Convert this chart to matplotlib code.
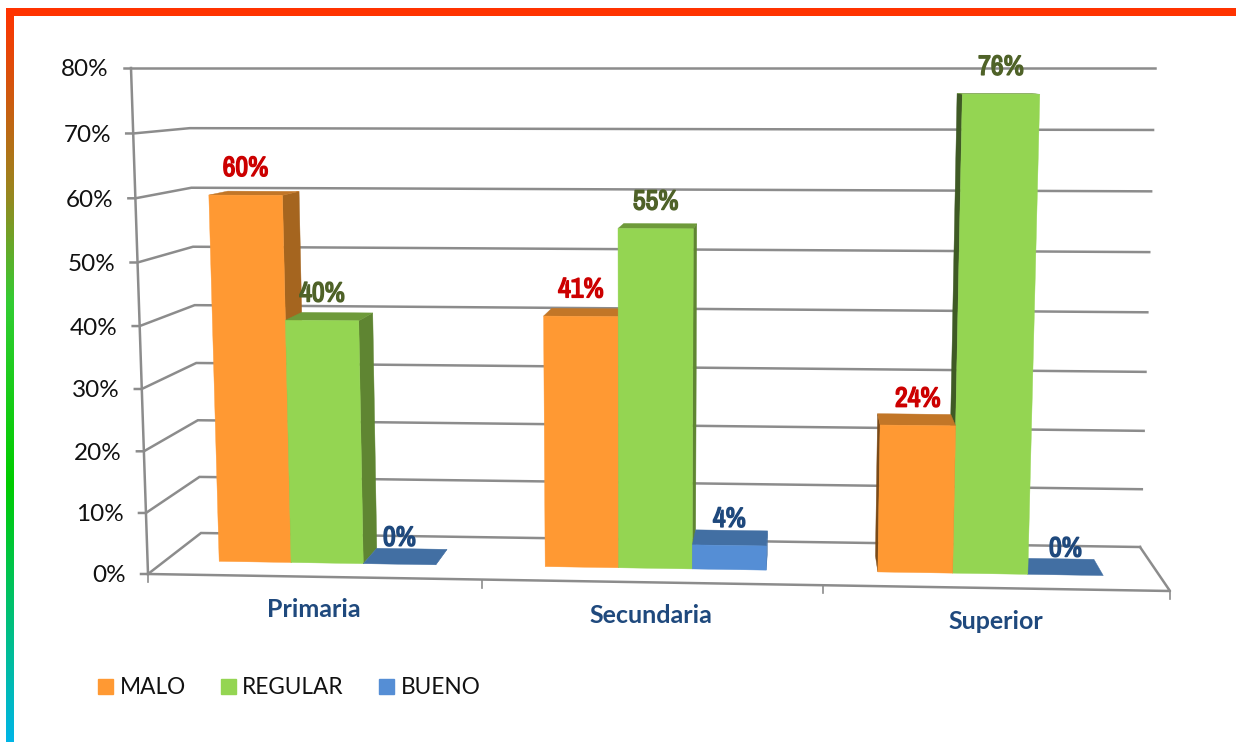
import numpy as np
import matplotlib
matplotlib.use("Agg")
import matplotlib.pyplot as plt
import matplotlib.patheffects as pe
from matplotlib.colors import LinearSegmentedColormap
from matplotlib.patches import Patch, Rectangle

categories = ["Primaria", "Secundaria", "Superior"]
series = ["MALO", "REGULAR", "BUENO"]
malo = [60, 41, 24]
regular = [40, 55, 76]
bueno = [0, 4, 0]
y_ticks = [0, 10, 20, 30, 40, 50, 60, 70, 80]

front_col = ["#FF9933", "#94D552", "#558ED5"]
top_col = ["#C27627", "#6E9A3A", "#426FA3"]
side_col = ["#A5651F", "#5F8532", "#3F6B9F"]
label_col = ["#CC0000", "#4F6228", "#1F497D"]
grid_col = "#8C8C8C"

# corners of the 3d box in picture pixels: left/right, bottom/top
front = np.array([[[148, 574], [131, 68]], [[1170, 591], [1188, 68]]], dtype=float)
back = np.array([[[201, 533], [188, 68]], [[1140, 547], [1155, 68]]], dtype=float)


def project(u, v, d):
    # u = category position 0..3, v = percent, d = depth 0 (front)..1 (back)
    w = u / 3 * (0.97 + 0.03 * u / 3)
    t = v / 80
    s = t * (0.96 + 0.04 * t)
    f = (1 - w) * ((1 - s) * front[0, 0] + s * front[0, 1]) + w * ((1 - s) * front[1, 0] + s * front[1, 1])
    b = (1 - w) * ((1 - s) * back[0, 0] + s * back[0, 1]) + w * ((1 - s) * back[1, 0] + s * back[1, 1])
    return (1 - d) * f + d * b


fig = plt.figure(figsize=(12.36, 7.42), dpi=100)
ax = fig.add_axes([0, 0, 1, 1])

# frame with the gradient on the left
cmap = LinearSegmentedColormap.from_list("frame", [(0, "#FF3300"), (0.25, "#99861F"), (0.4, "#33CC33"), (0.65, "#00CC00"), (1, "#00B5E5")])
ax.imshow(np.linspace(0, 1, 300).reshape(-1, 1), cmap=cmap, extent=[6, 14, 742, 8], aspect="auto", zorder=5)
ax.add_patch(Rectangle((6, 8), 1230, 7.5, color="#FF3300", lw=0, zorder=5))

# walls and floor
for v in y_ticks:
    p0 = project(0, v, 0)
    p1 = project(0, v, 1)
    p2 = project(3, v, 1)
    ax.plot([p0[0] - 7, p0[0], p1[0], p2[0]], [p0[1], p0[1], p1[1], p2[1]], color=grid_col, lw=1.8, zorder=1, solid_joinstyle="miter")
    ax.text(p0[0] - 22, p0[1] + 2, "%d%%" % v, ha="right", va="center", fontsize=17.5, family="Lato", color="#111111")

a = project(0, 80, 0)
b = project(0, 0, 0)
ax.plot([a[0], b[0]], [a[1], b[1]], color=grid_col, lw=1.8, zorder=1)
c = project(3, 0, 0)
d = project(3, 0, 1)
ax.plot([b[0], c[0], d[0]], [b[1], c[1], d[1]], color=grid_col, lw=1.8, zorder=1)
for u in range(4):
    p = project(u, 0, 0)
    ax.plot([p[0], p[0]], [p[1], p[1] + 8], color=grid_col, lw=1.2, zorder=1)

# bars, 150% gap
values = [malo, regular, bueno]
bar_w = 1 / 4.5
gap = 0.75 * bar_w
d0 = 0.33
d1 = 0.70


def face(points, col, z):
    pts = np.array(points)
    ax.fill(pts[:, 0], pts[:, 1], color=col, lw=0.3, zorder=z)


for i in range(len(categories)):
    order = [2, 1, 0] if i == 2 else [0, 1, 2]
    for n, j in enumerate(order):
        val = values[j][i]
        u0 = i + gap + j * bar_w
        u1 = u0 + bar_w
        z = 2 + i + n * 0.1
        if i == 2:
            # seen from the right, left side shows
            side_dark = "#3F5A25" if j == 1 else "#7A4A18"
            face([project(u0, 0, d0), project(u0, 0, d1), project(u0, val, d1), project(u0, val, d0)], side_dark, z)
        else:
            face([project(u1, 0, d0), project(u1, 0, d1), project(u1, val, d1), project(u1, val, d0)], side_col[j], z)
        face([project(u0, val, d0), project(u1, val, d0), project(u1, val, d1), project(u0, val, d1)], top_col[j], z + 0.01)
        if val > 0:
            face([project(u0, 0, d0), project(u1, 0, d0), project(u1, val, d0), project(u0, val, d0)], front_col[j], z + 0.02)
        p = project(u0 + bar_w / 2, val, d0)
        ax.annotate("%d%%" % val, xy=p, xytext=(0, 26 + val / 80), textcoords="offset pixels", ha="center", va="center",
                    fontsize=20, fontweight="bold", color=label_col[j], zorder=10, family=["Archivo Narrow", "Roboto"],
                    path_effects=[pe.withStroke(linewidth=1.1, foreground=label_col[j])])

for i, name in enumerate(categories):
    p = project(i + 0.5, 0, 0)
    ax.text(p[0], p[1] + 33, name, ha="center", va="center", fontsize=18, fontweight="bold", family="Lato", color="#1F497D")

handles = [Patch(color=front_col[k], label=series[k]) for k in range(3)]
ax.legend(handles=handles, ncol=3, frameon=False, loc="center left", bbox_to_anchor=(98 / 1236, 1 - 688 / 742),
          prop={"family": "Lato", "size": 16.3}, handlelength=0.65, handleheight=0.65, handletextpad=0.3,
          columnspacing=1.55, borderpad=0, borderaxespad=0, labelcolor="#111111")

ax.set_xlim(0, 1236)
ax.set_ylim(742, 0)
ax.axis("off")
fig.savefig("out.png", dpi=100, facecolor="white")
